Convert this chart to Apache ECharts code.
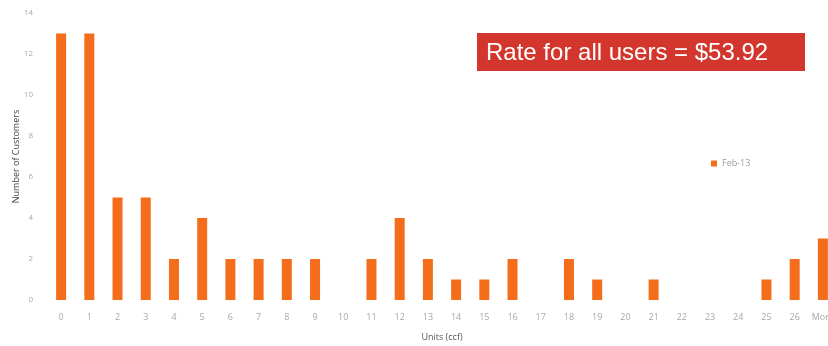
<!DOCTYPE html>
<html>
<head>
<meta charset="utf-8">
<style>
  html, body { margin: 0; padding: 0; background: #fff; }
  #chart { width: 828px; height: 346px; }
</style>
<script src="https://cdn.jsdelivr.net/npm/echarts@6/dist/echarts.min.js"></script>
</head>
<body>
<div id="chart"></div>
<script>
// Usage bins (ccf) and customer counts per bin
const categories = ['0','1','2','3','4','5','6','7','8','9','10','11','12','13','14','15','16','17','18','19','20','21','22','23','24','25','26','More'];
const customers = [13, 13, 5, 5, 2, 4, 2, 2, 2, 2, 0, 2, 4, 2, 1, 1, 2, 0, 2, 1, 0, 1, 0, 0, 0, 1, 2, 3];
const seriesName = 'Feb-13';
const rateNote = 'Rate for all users = $53.92';

const chart = echarts.init(document.getElementById('chart'));
chart.setOption({
  animation: false,
  backgroundColor: '#ffffff',
  textStyle: { fontFamily: 'Open Sans, Liberation Sans, sans-serif' },
  legend: {
    left: 706, top: 154,
    itemWidth: 6, itemHeight: 6, itemGap: 4,
    icon: 'rect',
    textStyle: { color: '#9a9a9a', fontSize: 9 },
    data: [seriesName]
  },
  grid: { left: 47, top: 13, width: 790, height: 287, containLabel: false, outerBoundsMode: 'none' },
  xAxis: {
    type: 'category',
    data: categories,
    name: 'Units (ccf)',
    nameLocation: 'middle',
    nameGap: 33,
    nameMoveOverlap: false,
    nameTextStyle: { color: '#555', fontSize: 9 },
    axisLine: { show: false },
    axisTick: { show: false },
    axisLabel: { color: '#a8a8a8', fontSize: 9, margin: 13, interval: 0 }
  },
  yAxis: {
    type: 'value',
    min: 0, max: 14, interval: 2,
    name: 'Number of Customers',
    nameLocation: 'middle',
    nameGap: 26,
    nameMoveOverlap: false,
    nameTextStyle: { color: '#444', fontSize: 9 },
    axisLine: { show: false },
    axisTick: { show: false },
    splitLine: { show: false },
    axisLabel: { color: '#a8a8a8', fontSize: 8, margin: 14 }
  },
  series: [{
    name: seriesName,
    type: 'bar',
    data: customers,
    barWidth: 10,
    itemStyle: { color: '#f46d1b' }
  }],
  graphic: [{
    type: 'group',
    left: 477, top: 33,
    children: [{
      type: 'rect',
      shape: { x: 0, y: 0, width: 328, height: 38 },
      style: { fill: '#d2362c' }
    }, {
      type: 'text',
      x: 9, y: 20,
      style: {
        text: rateNote,
        fill: '#ffffff',
        font: '24px "Liberation Sans", Arial, sans-serif',
        textVerticalAlign: 'middle'
      }
    }]
  }]
});
</script>
</body>
</html>
